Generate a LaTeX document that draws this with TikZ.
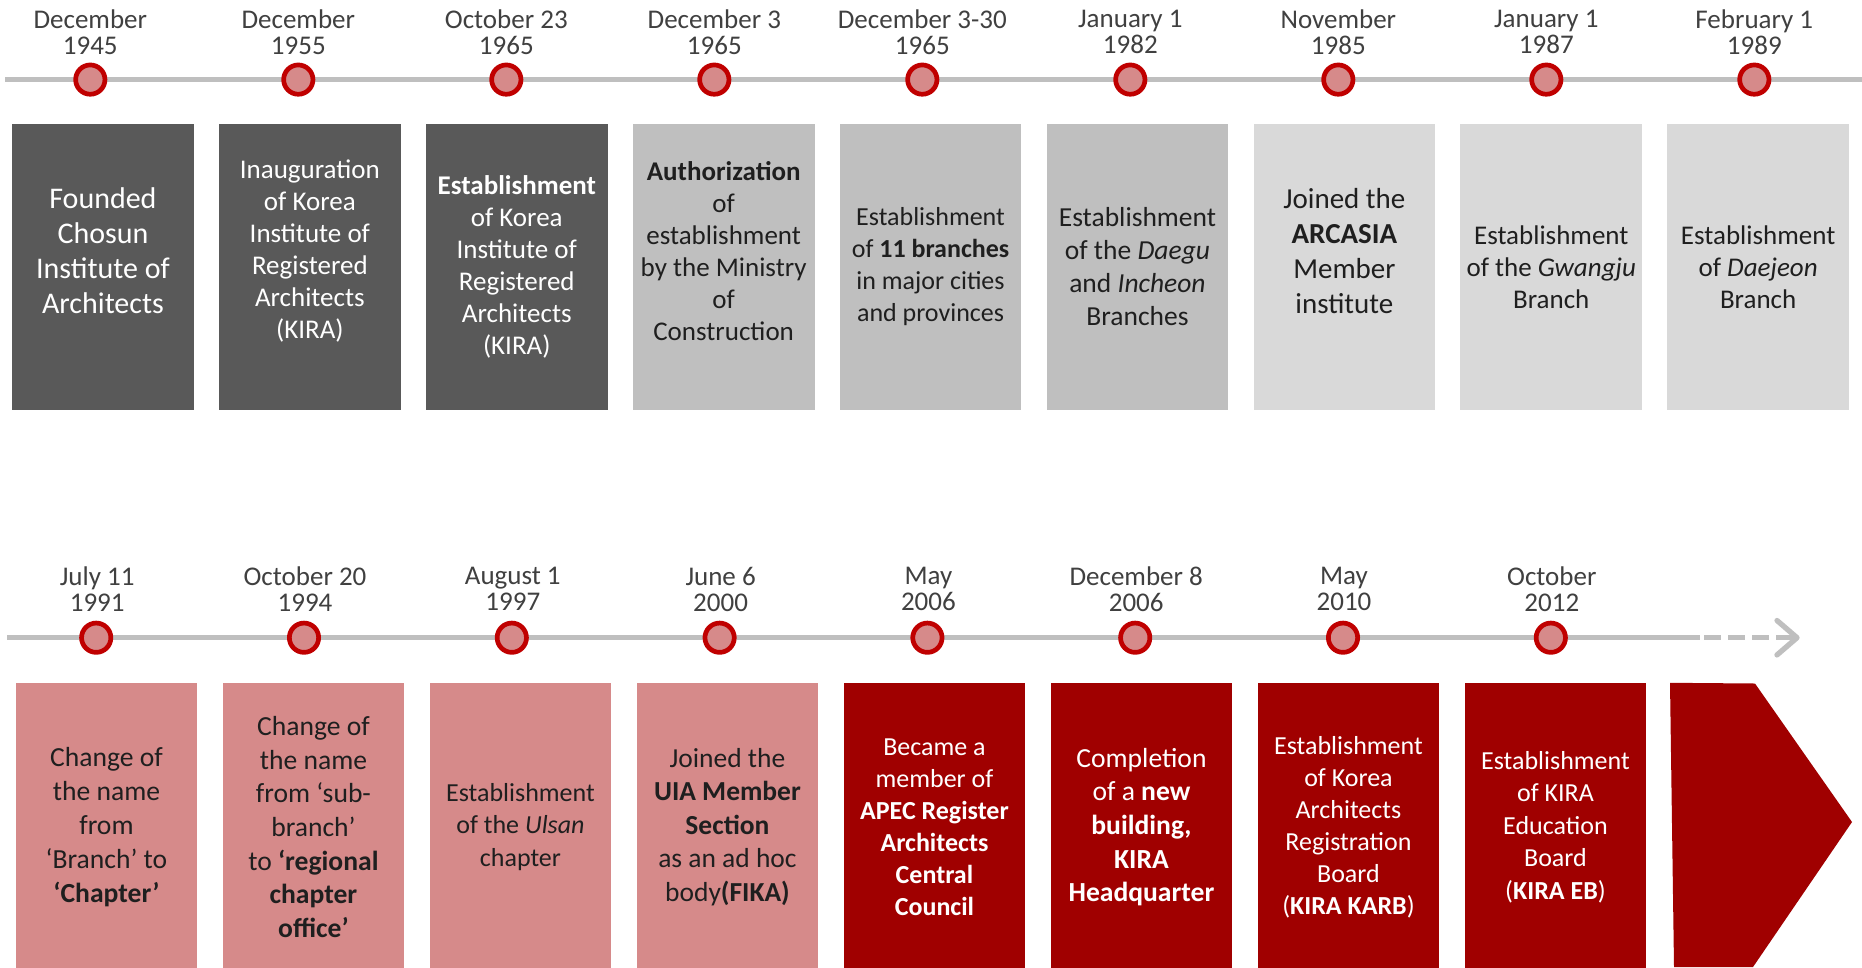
\documentclass[tikz,border=0pt]{standalone}
\usepackage{fontspec}
\setmainfont{Carlito}
\definecolor{darkbox}{HTML}{595959}
\definecolor{midbox}{HTML}{BFBFBF}
\definecolor{lightbox}{HTML}{D9D9D9}
\definecolor{pinkbox}{HTML}{D68A8A}
\definecolor{redbox}{HTML}{A00000}
\definecolor{ringred}{HTML}{C00000}
\definecolor{tlgray}{HTML}{BFBFBF}
\definecolor{datecol}{HTML}{404040}
\definecolor{inkdark}{HTML}{1F1F1F}
\newcommand\fsz[2]{\fontsize{#1}{#2}\selectfont}
\begin{document}
\begin{tikzpicture}[x=1pt,y=-1pt,
  tline/.style={draw=tlgray, line width=5.3pt},
  dot/.style={circle, draw=ringred, fill=pinkbox, line width=4.7pt, minimum size=29.3pt, inner sep=0pt},
  datelbl/.style={text=datecol, align=center, font=\fsz{27}{26}, inner sep=0pt},
  panel/.style={draw=none, anchor=north west, minimum width=181.7pt, inner sep=0pt},
  toppanel/.style={panel, minimum height=286.2pt},
  botpanel/.style={panel, minimum height=285pt},
  txt/.style={align=center, inner sep=0pt}
]
\useasboundingbox (0,0) rectangle (1862,967);
\fill[white] (0,0) rectangle (1862,967);

% ---------- top timeline ----------
\coordinate (ta) at (5,79.6);
\coordinate (tb) at (1862,79.6);
\draw[tline] (ta) -- (tb);
\foreach \k in {0,...,8}{
  \node[dot] (c\k) at ({90.3+208*\k},79.6) {};
}
\node[datelbl] (d0) at (90.3,32) {December\\1945};
\node[datelbl] (d1) at (298.3,32) {December\\1955};
\node[datelbl] (d2) at (506.3,32) {October 23\\1965};
\node[datelbl] (d3) at (714.3,32) {December 3\\1965};
\node[datelbl] (d4) at (922.3,32) {December 3-30\\1965};
\node[datelbl] (d5) at (1130.3,32) {January 1\\1982};
\node[datelbl] (d6) at (1338.3,32) {November\\1985};
\node[datelbl] (d7) at (1546.3,32) {January 1\\1987};
\node[datelbl] (d8) at (1754.3,32) {February 1\\1989};

% top panels
\node[toppanel, fill=darkbox] (b0) at (11.9,123.5) {};
\node[toppanel, fill=darkbox] (b1) at (218.8,123.5) {};
\node[toppanel, fill=darkbox] (b2) at (425.7,123.5) {};
\node[toppanel, fill=midbox] (b3) at (632.6,123.5) {};
\node[toppanel, fill=midbox] (b4) at (839.5,123.5) {};
\node[toppanel, fill=midbox] (b5) at (1046.4,123.5) {};
\node[toppanel, fill=lightbox] (b6) at (1253.3,123.5) {};
\node[toppanel, fill=lightbox] (b7) at (1460.2,123.5) {};
\node[toppanel, fill=lightbox] (b8) at (1667.1,123.5) {};

\node[txt, text=white, font=\fsz{30}{35}] (t0) at (b0.center|-0,250.6) {Founded\\Chosun\\Institute of\\Architects};
\node[txt, text=white, font=\fsz{27}{32}] (t1) at (b1.center|-0,250.6) {Inauguration\\of Korea\\Institute of\\Registered\\Architects\\(KIRA)};
\node[txt, text=white, font=\fsz{27}{32}] (t2) at (b2.center|-0,266.6) {\textbf{Establishment}\\of Korea\\Institute of\\Registered\\Architects\\(KIRA)};
\node[txt, text=inkdark, font=\fsz{27}{32}] (t3) at (b3.center|-0,250.6) {\textbf{Authorization}\\of\\establishment\\by the Ministry\\of\\Construction};
\node[txt, text=inkdark, font=\fsz{26}{32}] (t4) at (b4.center|-0,267) {Establishment\\of \textbf{11 branches}\\in major cities\\and provinces};
\node[txt, text=inkdark, font=\fsz{27.5}{33}] (t5) at (b5.center|-0,267) {Establishment\\of the \textit{Daegu}\\and \textit{Incheon}\\Branches};
\node[txt, text=inkdark, font=\fsz{29}{35}] (t6) at (b6.center|-0,250.6) {Joined the\\\textbf{ARCASIA}\\Member\\institute};
\node[txt, text=inkdark, font=\fsz{27}{32}] (t7) at (b7.center|-0,267) {Establishment\\of the \textit{Gwangju}\\Branch};
\node[txt, text=inkdark, font=\fsz{27}{32}] (t8) at (b8.center|-0,267) {Establishment\\of \textit{Daejeon}\\Branch};

% ---------- bottom timeline ----------
\coordinate (ba) at (7,637.7);
\coordinate (bb) at (1700,637.7);
\coordinate (bc) at (1704,637.7);
\coordinate (bd) at (1793,637.7);
\coordinate (tipA) at (1777,620.5);
\coordinate (tip) at (1797,637.7);
\coordinate (tipB) at (1777,654.9);
\draw[tline] (ba) -- (bb);
\draw[tline, dash pattern=on 17pt off 7pt] (bc) -- (bd);
\draw[tline, line cap=round, line join=round] (tipA) -- (tip) -- (tipB);
\foreach \k in {0,...,7}{
  \node[dot] (e\k) at ({96.2+207.8*\k},637.7) {};
}
\node[datelbl] (f0) at (97.2,589) {July 11\\1991};
\node[datelbl] (f1) at (305,589) {October 20\\1994};
\node[datelbl] (f2) at (512.8,589) {August 1\\1997};
\node[datelbl] (f3) at (720.6,589) {June 6\\2000};
\node[datelbl] (f4) at (928.4,589) {May\\2006};
\node[datelbl] (f5) at (1136.2,589) {December 8\\2006};
\node[datelbl] (f6) at (1344,589) {May\\2010};
\node[datelbl] (f7) at (1551.8,589) {October\\2012};

\node[botpanel, fill=pinkbox] (g0) at (15.4,682.8) {};
\node[botpanel, fill=pinkbox] (g1) at (222.4,682.8) {};
\node[botpanel, fill=pinkbox] (g2) at (429.4,682.8) {};
\node[botpanel, fill=pinkbox] (g3) at (636.4,682.8) {};
\node[botpanel, fill=redbox] (g4) at (843.4,682.8) {};
\node[botpanel, fill=redbox] (g5) at (1050.4,682.8) {};
\node[botpanel, fill=redbox] (g6) at (1257.4,682.8) {};
\node[botpanel, fill=redbox] (g7) at (1464.4,682.8) {};
\fill[redbox] (1670,682.8) -- (1755,683.5) -- (1852,822) -- (1753,967) -- (1674,967) -- cycle;

\node[txt, text=inkdark, font=\fsz{27.6}{33.8}] (u0) at (g0.center|-0,827) {Change of\\the name\\from\\‘Branch’ to\\\textbf{‘Chapter’}};
\node[txt, text=inkdark, font=\fsz{27.6}{33.6}] (u1) at (g1.center|-0,827) {Change of\\the name\\from ‘sub-\\branch’\\to \textbf{‘regional}\\\textbf{chapter}\\\textbf{office’}};
\node[txt, text=inkdark, font=\fsz{26}{32.5}] (u2) at (g2.center|-0,827) {Establishment\\of the \textit{Ulsan}\\chapter};
\node[txt, text=inkdark, font=\fsz{27.5}{33.6}] (u3) at (g3.center|-0,827) {Joined the\\\textbf{UIA Member}\\\textbf{Section}\\as an ad hoc\\body\textbf{(FIKA)}};
\node[txt, text=white, font=\fsz{26}{32}] (u4) at (g4.center|-0,827) {Became a\\member of\\\textbf{APEC Register}\\\textbf{Architects}\\\textbf{Central}\\\textbf{Council}};
\node[txt, text=white, font=\fsz{27.6}{33.6}] (u5) at (g5.center|-0,827) {Completion\\of a \textbf{new}\\\textbf{building,}\\\textbf{KIRA}\\\textbf{Headquarter}};
\node[txt, text=white, font=\fsz{26}{32}] (u6) at (g6.center|-0,827) {Establishment\\of Korea\\Architects\\Registration\\Board\\(\textbf{KIRA KARB})};
\node[txt, text=white, font=\fsz{26}{32.5}] (u7) at (g7.center|-0,827) {Establishment\\of KIRA\\Education\\Board\\(\textbf{KIRA EB})};
\end{tikzpicture}
\end{document}
